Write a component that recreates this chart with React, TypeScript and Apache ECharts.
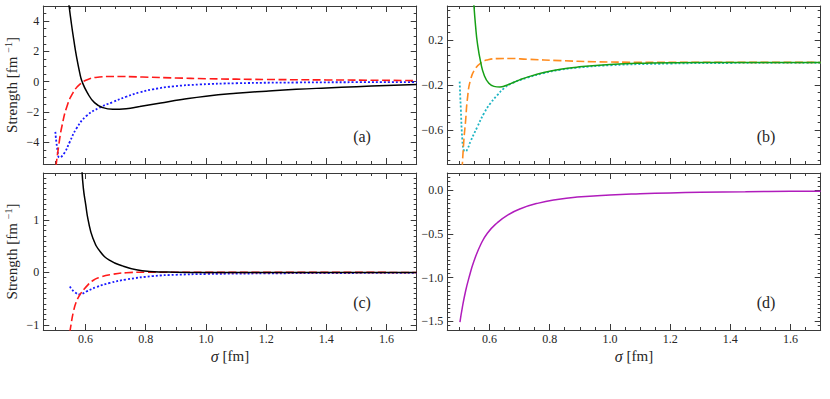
import React, { useEffect, useRef } from "react";
import * as echarts from "echarts";

// ---------- axes ----------
const xRange = [0.46, 1.7];
const xMajorTicks = [0.6, 0.8, 1.0, 1.2, 1.4, 1.6];

const aRange = [-5.43, 5];
const aTicks = [-4, -2, 0, 2, 4];
const bRange = [-0.9, 0.5];
const bTicks = [-0.6, -0.2, 0.2];
const cRange = [-1.1, 1.9];
const cTicks = [-1, 0, 1];
const dRange = [-1.6, 0.2];
const dTicks = [-1.5, -1.0, -0.5, 0.0];

const panelLabels = ["(a)", "(b)", "(c)", "(d)"];

// ---------- panel (a) ----------
const aSolidSigma = [0.545, 0.553, 0.561, 0.57, 0.581, 0.589, 0.606, 0.63, 0.658, 0.691, 0.735, 0.78, 0.85, 0.92, 1.0, 1.1, 1.2, 1.3, 1.4, 1.5, 1.6, 1.7];
const aSolidVal = [5.1, 3.88, 2.79, 1.69, 0.59, 0, -0.72, -1.38, -1.71, -1.82, -1.78, -1.64, -1.4, -1.17, -0.95, -0.76, -0.62, -0.5, -0.41, -0.33, -0.25, -0.19];

const aDashSigma = [0.502, 0.511, 0.522, 0.539, 0.559, 0.581, 0.608, 0.647, 0.691, 0.79, 0.9, 1.0, 1.2, 1.4, 1.7];
const aDashVal = [-5.6, -4.23, -2.92, -1.6, -0.72, -0.18, 0.15, 0.31, 0.35, 0.31, 0.25, 0.2, 0.15, 0.12, 0.08];

const aDotSigma = [0.5, 0.507, 0.514, 0.531, 0.547, 0.57, 0.603, 0.647, 0.691, 0.735, 0.78, 0.824, 0.89, 0.98, 1.1, 1.3, 1.5, 1.7];
const aDotVal = [-3.31, -4.5, -5.0, -4.67, -4.01, -3.09, -2.26, -1.71, -1.34, -0.99, -0.7, -0.5, -0.31, -0.18, -0.1, -0.05, -0.03, -0.02];

// ---------- panel (b) ----------
const bSolidSigma = [0.548, 0.554, 0.56, 0.571, 0.582, 0.598, 0.615, 0.635, 0.655, 0.67, 0.7, 0.726, 0.78, 0.836, 0.89, 1.0, 1.1, 1.3, 1.7];
const bSolidVal = [0.52, 0.32, 0.17, 0.0, -0.11, -0.185, -0.212, -0.218, -0.205, -0.188, -0.155, -0.13, -0.09, -0.06, -0.042, -0.018, -0.007, 0.0, 0.0];

const bDashSigma = [0.509, 0.515, 0.521, 0.5265, 0.537, 0.554, 0.574, 0.593, 0.626, 0.67, 0.726, 0.836, 0.95, 1.1, 1.4, 1.7];
const bDashVal = [-0.95, -0.69, -0.51, -0.33, -0.155, -0.052, 0.0, 0.022, 0.034, 0.035, 0.028, 0.016, 0.006, 0.002, 0.001, 0.0];

const bDotSigma = [0.501, 0.505, 0.51, 0.515, 0.52, 0.5265, 0.537, 0.56, 0.582, 0.604, 0.626, 0.648, 0.67, 0.726, 0.78, 0.836, 0.89, 1.0, 1.2, 1.4, 1.7];
const bDotVal = [-0.17, -0.42, -0.69, -0.78, -0.79, -0.77, -0.7, -0.57, -0.45, -0.36, -0.29, -0.23, -0.19, -0.135, -0.095, -0.065, -0.047, -0.025, -0.01, -0.005, -0.003];

// ---------- panel (c) ----------
const cSolidSigma = [0.588, 0.593, 0.601, 0.609, 0.625, 0.65, 0.681, 0.725, 0.769, 0.813, 0.9, 1.0, 1.7];
const cSolidVal = [2.0, 1.61, 1.29, 1.0, 0.65, 0.39, 0.23, 0.12, 0.05, 0.02, 0.005, 0.0, 0.0];

const cDashSigma = [0.548, 0.552, 0.56, 0.569, 0.58, 0.586, 0.6, 0.625, 0.65, 0.681, 0.736, 0.8, 1.0, 1.7];
const cDashVal = [-1.15, -1.0, -0.75, -0.57, -0.44, -0.39, -0.29, -0.154, -0.09, -0.045, -0.006, 0.004, 0.002, 0.0];

const cDotSigma = [0.548, 0.556, 0.565, 0.581, 0.603, 0.636, 0.681, 0.736, 0.824, 0.9, 1.0, 1.2, 1.4, 1.7];
const cDotVal = [-0.27, -0.33, -0.38, -0.42, -0.365, -0.28, -0.2, -0.135, -0.07, -0.045, -0.03, -0.018, -0.012, -0.008];

// ---------- panel (d) ----------
const dSolidSigma = [0.502, 0.51, 0.521, 0.532, 0.5486, 0.571, 0.593, 0.626, 0.659, 0.703, 0.759, 0.825, 0.891, 1.0, 1.1, 1.2, 1.3, 1.45, 1.6, 1.7];
const dSolidVal = [-1.51, -1.34, -1.15, -1.0, -0.81, -0.62, -0.49, -0.37, -0.285, -0.21, -0.148, -0.103, -0.076, -0.052, -0.038, -0.028, -0.021, -0.015, -0.01, -0.008];

// ---------- layout ----------
const grids = [
  { left: 43.3, top: 6, width: 373.4, height: 158 },
  { left: 447.3, top: 6, width: 373.4, height: 158 },
  { left: 43.3, top: 173, width: 373.4, height: 157 },
  { left: 447.3, top: 173, width: 373.4, height: 157 },
];

const FONT = "Liberation Serif";
const FRAME = "#3a3a3a";
const TEXT = "#262626";

function steps(a: number, b: number, s: number, skip: number[]) {
  const out: number[] = [];
  const n = Math.round((b - a) / s);
  for (let i = 0; i <= n; i++) {
    const v = Math.round((a + i * s) * 1e6) / 1e6;
    if (!skip.some((k) => Math.abs(k - v) < 1e-6)) out.push(v);
  }
  return out;
}

const xMinor = steps(0.5, 1.65, 0.05, xMajorTicks);
const yMinors = [
  steps(-5, 5, 0.5, aTicks),
  steps(-0.8667, 0.4667, 0.4 / 6, bTicks),
  steps(-1.1, 1.9, 0.1, cTicks),
  steps(-1.6, 0.2, 0.05, dTicks),
];
const yRanges = [aRange, bRange, cRange, dRange];
const yTicks = [aTicks, bTicks, cTicks, dTicks];
const yFmt = [
  (v: number) => String(v).replace("-", "\u2212"),
  (v: number) => v.toFixed(1).replace("-", "\u2212"),
  (v: number) => String(v).replace("-", "\u2212"),
  (v: number) => v.toFixed(1).replace("-", "\u2212"),
];

function pairs(xs: number[], ys: number[]) {
  return xs.map((x, i) => [x, ys[i]]);
}

export default function App() {
  const ref = useRef<HTMLDivElement>(null);
  useEffect(() => {
    if (!ref.current) return;
    const chart = echarts.init(ref.current, undefined, { renderer: "svg" });

    const xAxis: any[] = [];
    const yAxis: any[] = [];
    for (let g = 0; g < 4; g++) {
      const bottomRow = g >= 2;
      const leftCol = g % 2 === 0;
      for (const pos of ["bottom", "top"]) {
        for (const major of [true, false]) {
          const isMain = pos === "bottom" && major;
          const ax: any = {
            type: "value",
            gridIndex: g,
            position: pos,
            min: xRange[0],
            max: xRange[1],
            splitLine: { show: false },
            axisLine: { show: major, onZero: false, lineStyle: { color: FRAME, width: 1 } },
            axisTick: {
              show: true,
              inside: true,
              length: major ? 6 : 3,
              customValues: major ? xMajorTicks : xMinor,
              lineStyle: { color: FRAME, width: 1 },
            },
            axisLabel: { show: false },
          };
          if (isMain && bottomRow) {
            ax.axisLabel = {
              show: true,
              customValues: xMajorTicks,
              formatter: (v: number) => v.toFixed(1),
              fontFamily: FONT,
              fontSize: 12,
              color: TEXT,
              margin: 3,
            };
            ax.name = "{i|\u03c3} [fm]";
            ax.nameLocation = "middle";
            ax.nameGap = 18;
            ax.nameTextStyle = {
              fontFamily: FONT,
              fontSize: 15,
              color: TEXT,
              rich: { i: { fontFamily: FONT, fontSize: 16, fontStyle: "italic", color: TEXT } },
            };
          }
          xAxis.push(ax);
        }
      }
      for (const pos of ["left", "right"]) {
        for (const major of [true, false]) {
          const isMain = pos === "left" && major;
          const ay: any = {
            type: "value",
            gridIndex: g,
            position: pos,
            min: yRanges[g][0],
            max: yRanges[g][1],
            splitLine: { show: false },
            axisLine: { show: major, onZero: false, lineStyle: { color: FRAME, width: 1 } },
            axisTick: {
              show: true,
              inside: true,
              length: major ? 6 : 3,
              customValues: major ? yTicks[g] : yMinors[g],
              lineStyle: { color: FRAME, width: 1 },
            },
            axisLabel: { show: false },
          };
          if (isMain) {
            ay.axisLabel = {
              show: true,
              customValues: yTicks[g],
              formatter: yFmt[g],
              fontFamily: FONT,
              fontSize: 12,
              color: TEXT,
              margin: 4,
            };
            if (leftCol) {
              ay.name = "{n|Strength [fm}{s|\u22121}{n|]}";
              ay.nameLocation = "middle";
              ay.nameGap = 23;
              ay.nameTextStyle = {
                fontFamily: FONT,
                fontSize: 15,
                color: TEXT,
                rich: {
                  n: { fontFamily: FONT, fontSize: 15, color: TEXT, lineHeight: 17 },
                  s: { fontFamily: FONT, fontSize: 10, color: TEXT, verticalAlign: "top", lineHeight: 17, padding: [0, 0, 0, 4] },
                },
              };
            }
          }
          yAxis.push(ay);
        }
      }
    }

    const mk = (g: number, xs: number[], ys: number[], color: string, type: any, width: number) => ({
      type: "line",
      xAxisIndex: 4 * g,
      yAxisIndex: 4 * g,
      data: pairs(xs, ys),
      symbol: "none",
      showSymbol: false,
      smooth: 0.5,
      clip: true,
      lineStyle: { color, width, type, cap: "butt" },
      silent: true,
    });

    const dash = [8, 3.5];
    const dot = [2, 2];
    const series = [
      mk(0, aDotSigma, aDotVal, "#1a1aff", dot, 1.8),
      mk(0, aDashSigma, aDashVal, "#ff1a1a", dash, 1.6),
      mk(0, aSolidSigma, aSolidVal, "#000000", "solid", 1.5),
      mk(1, bDotSigma, bDotVal, "#1fb5c4", dot, 1.8),
      mk(1, bDashSigma, bDashVal, "#ff8c1f", dash, 1.6),
      mk(1, bSolidSigma, bSolidVal, "#16a016", "solid", 1.5),
      mk(2, cDotSigma, cDotVal, "#1a1aff", dot, 1.8),
      mk(2, cDashSigma, cDashVal, "#ff1a1a", dash, 1.6),
      mk(2, cSolidSigma, cSolidVal, "#000000", "solid", 1.5),
      mk(3, dSolidSigma, dSolidVal, "#b01cbc", "solid", 1.5),
    ];

    const labelPos = [
      [362, 136],
      [766, 136],
      [362, 302],
      [766, 302],
    ];
    const graphic = panelLabels.map((t, i) => ({
      type: "text",
      x: labelPos[i][0],
      y: labelPos[i][1],
      style: {
        text: t,
        font: `16px ${FONT}`,
        fill: TEXT,
        align: "center",
        verticalAlign: "middle",
      },
    }));

    chart.setOption({
      animation: false,
      backgroundColor: "#ffffff",
      grid: grids.map((g) => ({ ...g, containLabel: false })),
      xAxis,
      yAxis,
      series,
      graphic,
    });
    return () => chart.dispose();
  }, []);

  return (
    <div
      ref={ref}
      style={{ position: "absolute", left: 0, top: 0, width: 830, height: 399, background: "#fff" }}
    />
  );
}
